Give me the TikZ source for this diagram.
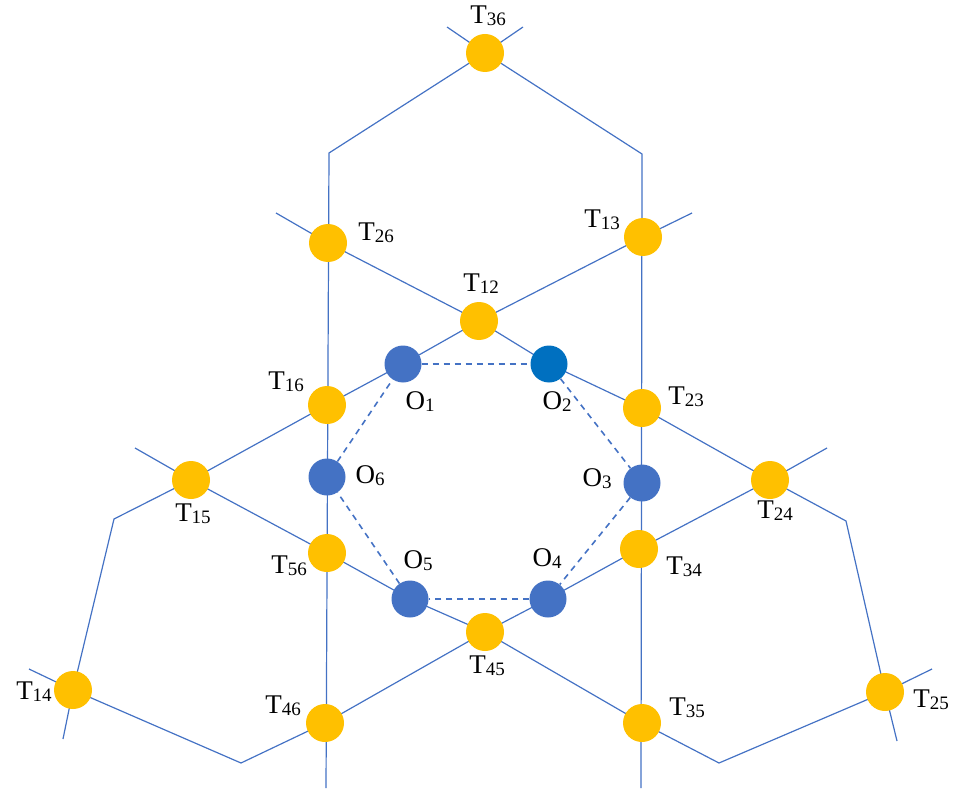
\documentclass[tikz,border=0pt]{standalone}
\usepackage{fontspec}
\setmainfont{Liberation Serif}
\usetikzlibrary{backgrounds}
\definecolor{lblue}{HTML}{4472C4}
\definecolor{dblue}{HTML}{0070C0}
\definecolor{tyel}{HTML}{FFC000}
\newcommand{\lbl}[2]{#1\raisebox{-2pt}{\fontsize{19}{19}\selectfont #2}}
\begin{document}
\begin{tikzpicture}[x=1pt,y=-1pt,
  tn/.style={circle,fill=tyel,minimum size=38pt,inner sep=0pt},
  onode/.style={circle,fill=lblue,minimum size=37pt,inner sep=0pt},
  lab/.style={font=\fontsize{27}{30}\selectfont,inner sep=0pt},
  ln/.style={draw=lblue,line width=1.2pt},
  hx/.style={draw=lblue,line width=1.6pt,dash pattern=on 6pt off 5pt}]
\useasboundingbox (0,0) rectangle (957,791);
% intersection points
\node[tn] (T36) at (485,53) {};
\node[tn] (T26) at (328,243) {};
\node[tn] (T13) at (643,237) {};
\node[tn] (T12) at (479,321) {};
\node[tn] (T16) at (327,405) {};
\node[tn] (T23) at (642,408) {};
\node[tn] (T15) at (191,480) {};
\node[tn] (T24) at (770,480) {};
\node[tn] (T56) at (327,553) {};
\node[tn] (T34) at (639,549) {};
\node[tn] (T45) at (485,632) {};
\node[tn] (T14) at (73,690) {};
\node[tn] (T46) at (325,723) {};
\node[tn] (T35) at (642,723) {};
\node[tn] (T25) at (885,692) {};
\node[onode] (O1) at (403,364) {};
\node[onode,fill=dblue] (O2) at (549,364) {};
\node[onode] (O3) at (642,483) {};
\node[onode] (O4) at (548,599) {};
\node[onode] (O5) at (410,599) {};
\node[onode] (O6) at (327,477) {};
% free ends and bends
\coordinate (a1) at (692,213); \coordinate (b1) at (114,519); \coordinate (e1) at (63,739);
\coordinate (a2) at (276,213); \coordinate (b2) at (846,521); \coordinate (e2) at (897,741);
\coordinate (a3) at (447,27);  \coordinate (b3) at (642,154); \coordinate (e3) at (641,788);
\coordinate (a6) at (523,27);  \coordinate (b6) at (329,153); \coordinate (e6) at (326,788);
\coordinate (a4) at (29,669);  \coordinate (b4) at (241,763); \coordinate (e4) at (827,448);
\coordinate (a5) at (932,669); \coordinate (b5) at (719,763); \coordinate (e5) at (135,448);
\begin{scope}[on background layer]
\draw[ln] (a1) -- (T13.center) -- (T12.center) -- (O1.center) -- (T16.center) -- (T15.center) -- (b1) -- (T14.center) -- (e1);
\draw[ln] (a2) -- (T26.center) -- (T12.center) -- (O2.center) -- (T23.center) -- (T24.center) -- (b2) -- (T25.center) -- (e2);
\draw[ln] (a3) -- (T36.center) -- (b3) -- (e3);
\draw[ln] (a6) -- (T36.center) -- (b6) -- (e6);
\draw[ln] (a4) -- (T14.center) -- (b4) -- (T46.center) -- (T45.center) -- (O4.center) -- (T34.center) -- (T24.center) -- (e4);
\draw[ln] (a5) -- (T25.center) -- (b5) -- (T35.center) -- (T45.center) -- (O5.center) -- (T56.center) -- (T15.center) -- (e5);
\end{scope}
% dashed hexagon
\draw[hx] (O1) -- (O2);
\draw[hx] (O2) -- (O3);
\draw[hx] (O3) -- (O4);
\draw[hx] (O4) -- (O5);
\draw[hx] (O5) -- (O6);
\draw[hx] (O6) -- (O1);
% labels
\node[lab] (lT36) at (488,16) {\lbl{T}{36}};
\node[lab] (lT26) at (376,233) {\lbl{T}{26}};
\node[lab] (lT13) at (602,220) {\lbl{T}{13}};
\node[lab] (lT12) at (481,284) {\lbl{T}{12}};
\node[lab] (lT16) at (286,382) {\lbl{T}{16}};
\node[lab] (lT23) at (686,397) {\lbl{T}{23}};
\node[lab] (lT15) at (193,514) {\lbl{T}{15}};
\node[lab] (lT24) at (775,511) {\lbl{T}{24}};
\node[lab] (lT56) at (289,566) {\lbl{T}{56}};
\node[lab] (lT34) at (684,567) {\lbl{T}{34}};
\node[lab] (lT45) at (487,666) {\lbl{T}{45}};
\node[lab] (lT14) at (34,692) {\lbl{T}{14}};
\node[lab] (lT46) at (283,706) {\lbl{T}{46}};
\node[lab] (lT35) at (687,708) {\lbl{T}{35}};
\node[lab] (lT25) at (931,700) {\lbl{T}{25}};
\node[lab] (lO1) at (420,402) {\lbl{O}{1}};
\node[lab] (lO2) at (557,402) {\lbl{O}{2}};
\node[lab] (lO3) at (597,479) {\lbl{O}{3}};
\node[lab] (lO4) at (547,559) {\lbl{O}{4}};
\node[lab] (lO5) at (418,561) {\lbl{O}{5}};
\node[lab] (lO6) at (370,476) {\lbl{O}{6}};
\end{tikzpicture}
\end{document}
